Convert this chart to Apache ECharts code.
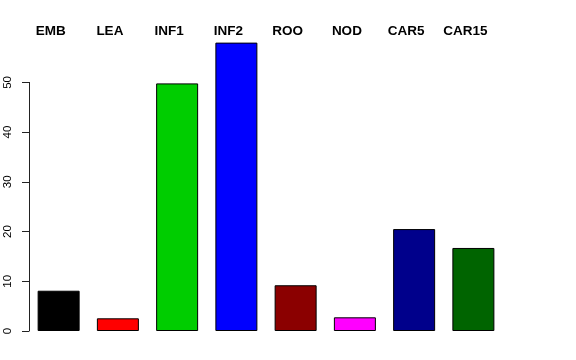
<!DOCTYPE html>
<html><head><meta charset="utf-8">
<script src="https://cdn.jsdelivr.net/npm/echarts@6/dist/echarts.min.js"></script>
<style>html,body{margin:0;padding:0;background:#fff}#c{width:576px;height:360px}</style>
</head><body><div id="c"></div>
<script>
var categories = ['EMB','LEA','INF1','INF2','ROO','NOD','CAR5','CAR15'];
var values = [8.1, 2.55, 49.8, 58.0, 9.2, 2.75, 20.5, 16.7];
var colors = ['#000000','#FF0000','#00CD00','#0000FF','#8B0000','#FF00FF','#00008B','#006400'];
var yTicks = [0, 10, 20, 30, 40, 50];

var chart = echarts.init(document.getElementById('c'), null, {renderer:'canvas'});
var yMaxData = 58;
var bottomPx = 29, gridLeft = 29, gridRight = 73;
var plotBottomY = 360 - bottomPx;
var pxPerUnit = 4.972;
var top1 = plotBottomY - yMaxData * pxPerUnit;
var top2 = plotBottomY - yTicks[yTicks.length-1] * pxPerUnit;

chart.setOption({
  animation: false,
  grid: [
    {left: gridLeft, right: gridRight, top: top1, bottom: bottomPx},
    {left: gridLeft, right: gridRight, top: top2, bottom: bottomPx}
  ],
  xAxis: [
    {type:'category', gridIndex:0, data: categories, position:'top',
     axisLine:{show:false}, axisTick:{show:false},
     axisLabel:{show:true, fontFamily:'Liberation Sans', fontWeight:'bold', fontSize:13.5, color:'#000',
       margin:4, padding:[0,16,0,0]}},
    {type:'category', gridIndex:1, data: categories, show:false}
  ],
  yAxis: [
    {type:'value', gridIndex:0, min:0, max:yMaxData, show:false, splitLine:{show:false}},
    {type:'value', gridIndex:1, min:yTicks[0], max:yTicks[yTicks.length-1], interval:10,
     axisLine:{show:true, lineStyle:{color:'#222', width:1}},
     axisTick:{show:true, length:7, lineStyle:{color:'#222'}},
     splitLine:{show:false},
     axisLabel:{rotate:90, fontFamily:'Liberation Sans', fontSize:11.5, color:'#000', margin:15}}
  ],
  series: [{
    type:'bar', xAxisIndex:0, yAxisIndex:0,
    barWidth: 42,
    data: values.map(function(v,i){return {value:v, itemStyle:{color:colors[i]}};}),
    itemStyle:{borderColor:'#000', borderWidth:1}
  }]
});
</script></body></html>
